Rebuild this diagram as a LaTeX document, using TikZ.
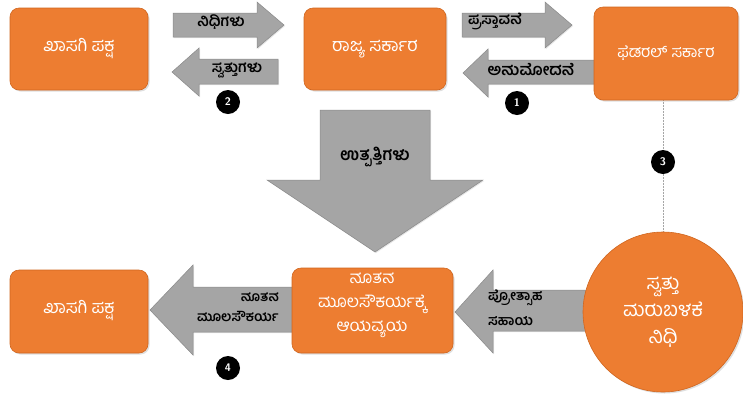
\documentclass[tikz,border=0pt]{standalone}
\usepackage{fontspec}
\newfontfamily\kn[Script=Kannada]{Hind Mysuru}
\usetikzlibrary{shadows}
\definecolor{boxor}{HTML}{ED7D31}
\definecolor{boxedge}{HTML}{D0661F}
\definecolor{arrgray}{HTML}{A5A5A5}
\definecolor{arredge}{HTML}{8A8A8A}
\tikzset{
  obox/.style={rounded corners=9pt, fill=boxor, draw=boxedge, line width=0.6pt,
    drop shadow={opacity=0.25, shadow xshift=1.5pt, shadow yshift=-1.5pt}},
  btxt/.style={text=white, font=\kn\fontsize{18}{22}\selectfont, align=center, inner sep=0pt},
  garr/.style={fill=arrgray, draw=arredge, line width=0.5pt,
    drop shadow={opacity=0.2, shadow xshift=1pt, shadow yshift=-1pt}},
  atxt/.style={text=black, font=\kn\bfseries\fontsize{15}{18}\selectfont, inner sep=0pt},
  num/.style={circle, fill=black, text=white, minimum size=24pt, inner sep=0pt,
    font=\sffamily\bfseries\fontsize{11}{11}\selectfont},
}
\begin{document}
\begin{tikzpicture}[x=1pt, y=-1pt]
\useasboundingbox (0,0) rectangle (743,400);
\fill[white] (0,0) rectangle (743,400);

% connector line (dotted) fed -> fund
\coordinate (fedb) at (663,100);
\coordinate (fundt) at (663,232);
\draw[gray!70, line width=0.5pt, densely dotted] (fedb) -- (fundt);

% block arrows (drawn before boxes so the tails go under them)
% 1: funds (right)
\draw[garr] (173,13) -- (257,13) -- (257,2) -- (284,25) -- (257,48) -- (257,37) -- (173,37) -- cycle;
% 2: assets (left)
\draw[garr] (278,59) -- (199,59) -- (199,48) -- (172,72) -- (199,96) -- (199,84) -- (278,84) -- cycle;
% 3: proposal (right)
\draw[garr] (462,13) -- (545,13) -- (545,2) -- (572,25) -- (545,48) -- (545,37) -- (462,37) -- cycle;
% 4: approval (left)
\draw[garr] (600,60) -- (488,60) -- (488,49) -- (463,73) -- (488,97) -- (488,84) -- (600,84) -- cycle;
% big down arrow
\draw[garr] (320,110) -- (430,110) -- (430,180) -- (483,180) -- (375,252) -- (267,180) -- (320,180) -- cycle;
% 5: incentive (left)
\draw[garr] (600,290) -- (493,290) -- (493,270) -- (455,312) -- (493,353) -- (493,331) -- (600,331) -- cycle;
% 6: new infra (left)
\draw[garr] (300,287) -- (193,287) -- (193,265) -- (150,310) -- (193,355) -- (193,332) -- (300,332) -- cycle;

% boxes
\draw[obox] (10,8) rectangle (148,90);
\node[btxt] (pvt1) at (79,49) {ಖಾಸಗಿ ಪಕ್ಷ};
\draw[obox] (304,8) rectangle (446,90);
\node[btxt] (state) at (375,49) {ರಾಜ್ಯ ಸರ್ಕಾರ};
\draw[obox] (594,7) rectangle (738,100);
\node[btxt, font=\kn\fontsize{16}{20}\selectfont] (fed) at (666,53) {ಫೆಡರಲ್ ಸರ್ಕಾರ};
\draw[obox] (10,270) rectangle (148,353);
\node[btxt] (pvt2) at (79,311) {ಖಾಸಗಿ ಪಕ್ಷ};
\draw[obox] (292,268) rectangle (453,353);
\node[btxt, font=\kn\fontsize{17}{24}\selectfont] (budget) at (372,305) {ನೂತನ\\ಮೂಲಸೌಕರ್ಯಕ್ಕೆ\\ಆಯವ್ಯಯ};
\draw[fill=boxor, draw=boxedge, line width=0.6pt,
  drop shadow={opacity=0.25, shadow xshift=1.5pt, shadow yshift=-1.5pt}] (663,312) circle (80);
\node[btxt, font=\kn\fontsize{20}{27}\selectfont] (fund) at (663,312) {ಸ್ವತ್ತು\\ಮರುಬಳಕೆ\\ನಿಧಿ};

% arrow labels
\node[atxt] (l1) at (221,22) {ನಿಧಿಗಳು};
\node[atxt] (l2) at (237,70) {ಸ್ವತ್ತುಗಳು};
\node[atxt] (l3) at (495,21) {ಪ್ರಸ್ತಾವನೆ};
\node[atxt, font=\kn\bfseries\fontsize{16}{18}\selectfont] (l4) at (531,70) {ಅನುಮೋದನೆ};
\node[atxt, font=\kn\bfseries\fontsize{17}{18}\selectfont] (l5) at (375,157) {ಉತ್ಪತ್ತಿಗಳು};
\node[atxt, align=left, anchor=west, font=\kn\bfseries\fontsize{14}{25}\selectfont] (l6) at (488,308) {ಪ್ರೋತ್ಸಾಹ\\ಸಹಾಯ};
\node[atxt, align=right, anchor=east, font=\kn\bfseries\fontsize{13.5}{20}\selectfont] (l7) at (279,307) {ನೂತನ\\ಮೂಲಸೌಕರ್ಯ};

% numbers
\node[num] (n1) at (517,103) {1};
\node[num] (n2) at (228,102) {2};
\node[num] (n3) at (663,162) {3};
\node[num] (n4) at (228,368) {4};
\end{tikzpicture}
\end{document}
